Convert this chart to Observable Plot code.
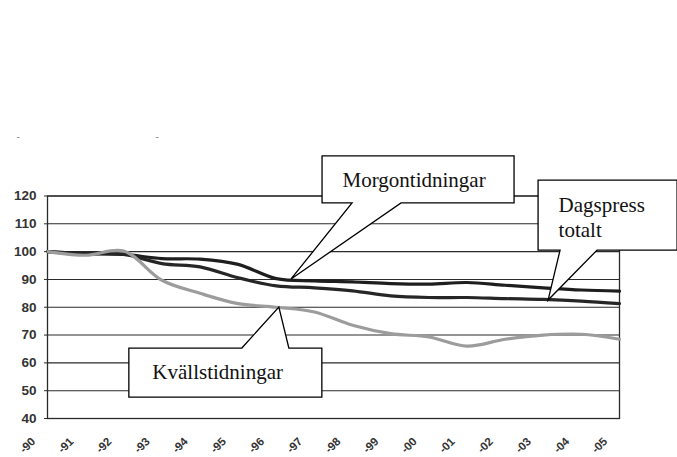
<!DOCTYPE html>
<html>
<head>
<meta charset="utf-8">
<script src="https://cdn.jsdelivr.net/npm/d3@7"></script>
<script src="https://cdn.jsdelivr.net/npm/@observablehq/plot@0.6"></script>
<style>
  body { margin: 0; background: #fff; }
  #chart svg { display: block; }
</style>
</head>
<body>
<div id="chart"></div>
<script>
// Upplaga, index 1990 = 100
const years = [1990, 1991, 1992, 1993, 1994, 1995, 1996, 1997, 1998, 1999, 2000, 2001, 2002, 2003, 2004, 2005];
const yearLabels = ["-90", "-91", "-92", "-93", "-94", "-95", "-96", "-97", "-98", "-99", "-00", "-01", "-02", "-03", "-04", "-05"];
const morgontidningar = [100, 99.3, 99, 97.5, 97.3, 95.4, 90.3, 89.5, 89.1, 88.5, 88.3, 88.9, 87.9, 87, 86.2, 85.8];
const dagspressTotalt = [100, 99.3, 99, 95.7, 94.5, 90.6, 87.7, 87, 85.9, 84.1, 83.5, 83.5, 83.1, 82.8, 82.2, 81.3];
const kvallstidningar = [100, 98.7, 100.2, 89.7, 85, 81.3, 80, 78.3, 73.5, 70.5, 69.3, 66, 68.5, 70, 70.3, 68.5];
const yTicks = [40, 50, 60, 70, 80, 90, 100, 110, 120];

const series = [
  {name: "Morgontidningar", values: morgontidningar},
  {name: "Dagspress totalt", values: dagspressTotalt},
  {name: "Kvällstidningar", values: kvallstidningar}
];
const rows = series.flatMap(s => s.values.map((v, i) => ({serie: s.name, year: years[i], value: v})));
const labelOf = new Map(years.map((y, i) => [y, yearLabels[i]]));

// Pratbubblor: spetsen sitter i dataenheter, rutan och texten i pixlar relativt spetsen
const callouts = [
  {text: "Morgontidningar", year: 1996.4, value: 90, box: [31, 223, -123, -76], base: [61, 110], side: "bottom", tx: 51, ty: -92},
  {text: "Dagspress\ntotalt", year: 2003.14, value: 82.4, box: [-10, 129, -120, -50], base: [12, 49], side: "bottom", tx: 10, ty: -64},
  {text: "Kvällstidningar", year: 1996.08, value: 79.9, box: [-150, 43, 41, 90], base: [-37, 10], side: "top", tx: -127, ty: 71}
];

function calloutShapes(index, scales) {
  const g = d3.create("svg:g");
  for (const c of callouts) {
    const [x1, x2, y1, y2] = c.box;
    const [bl, br] = c.base;
    const path = c.side === "bottom"
      ? `M${x1},${y1}H${x2}V${y2}H${br}L0,0L${bl},${y2}H${x1}Z`
      : `M${x1},${y1}H${bl}L0,0L${br},${y1}H${x2}V${y2}H${x1}Z`;
    g.append("path")
      .attr("transform", `translate(${scales.x(c.year)},${scales.y(c.value)})`)
      .attr("d", path)
      .attr("fill", "#fff")
      .attr("stroke", "#000")
      .attr("stroke-width", 1.3)
      .attr("stroke-linejoin", "miter");
  }
  return g.node();
}

const calloutTexts = callouts.map(c => Plot.text([c], {
  x: "year", y: "value", text: "text",
  dx: c.tx, dy: c.ty,
  textAnchor: "start", lineAnchor: "bottom", lineHeight: 25 / 21,
  fontFamily: "Liberation Serif", fontSize: 21, fontWeight: "normal", fill: "#111"
}));

const chart = Plot.plot({
  width: 677,
  height: 457,
  marginTop: 195.5,
  marginBottom: 39,
  marginLeft: 47,
  marginRight: 58,
  style: {fontFamily: "'Liberation Sans', Arial, sans-serif", background: "#fff", overflow: "visible"},
  x: {domain: [1990, 2005], axis: null},
  y: {domain: [40, 120], axis: null},
  color: {
    domain: series.map(s => s.name),
    range: ["#1e1e1e", "#262626", "#9c9c9c"]
  },
  marks: [
    Plot.ruleY(yTicks, {stroke: "#2a2a2a", strokeWidth: 1.1}),
    Plot.frame({stroke: "#2a2a2a", strokeWidth: 1.3}),
    Plot.line(rows, {
      x: "year", y: "value", z: "serie", stroke: "serie",
      strokeWidth: 3.2, curve: "catmull-rom"
    }),
    calloutShapes,
    ...calloutTexts,
    Plot.axisY({
      ticks: yTicks, tickSize: 3, tickPadding: 8, label: null,
      fontSize: 13.5, fontWeight: "bold", fill: "#333", stroke: "#2a2a2a"
    }),
    Plot.text(years, {
      x: d => d, frameAnchor: "bottom", text: d => labelOf.get(d),
      rotate: -45, textAnchor: "end", lineAnchor: "middle",
      dx: -14, dy: 21, fontSize: 11.5, fontWeight: "bold", fill: "#333"
    }),
    Plot.text(["-"], {frameAnchor: "top-left", dx: -31, dy: -63, fontSize: 10, fill: "#888"}),
    Plot.text(["-"], {frameAnchor: "top-left", dx: 108, dy: -63, fontSize: 10, fill: "#888"})
  ]
});

document.getElementById("chart").appendChild(chart);
</script>
</body>
</html>
